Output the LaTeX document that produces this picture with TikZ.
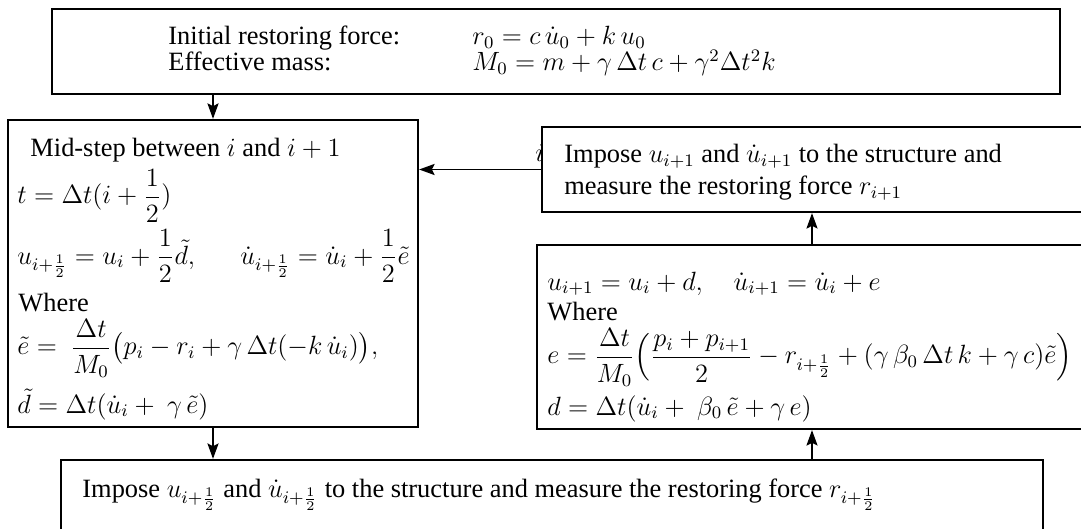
\documentclass[tikz,border=0pt,12pt]{standalone}
\usepackage{amsmath}
\usepackage{fontspec}
\setmainfont{Liberation Serif}
\usetikzlibrary{arrows.meta,fit}
\begin{document}
\begin{tikzpicture}[x=0.4545pt,y=-0.4545pt,
  box/.style={draw, line width=1pt, inner sep=0pt},
  txt/.style={anchor=base west, inner sep=0pt},
  arr/.style={-{Stealth[length=7pt,width=5pt,inset=1.2pt]}, line width=0.9pt}]
\clip (0,0) rectangle (1081,529);

% boxes
\node[box, fit={(52,9) (1060,94)}] (top) {};
\node[box, fit={(8,120) (418,427)}] (left) {};
\node[box, fit={(542,127) (1082,212)}] (rt) {};
\node[box, fit={(537,245) (1087,429)}] (rb) {};
\node[box, fit={(61,460) (1043,545)}] (bot) {};

% top box text
\node[txt] (t1) at (168,45) {Initial restoring force:};
\node[txt] (t2) at (168,71) {Effective mass:};
\node[txt] (t1m) at (472,45) {$r_0=c\,\dot u_0+k\,u_0$};
\node[txt] (t2m) at (472,71) {$M_0=m+\gamma\,\Delta t\,c+\gamma^2\Delta t^2k$};

% left box text
\node[txt] (l1) at (30,157) {Mid-step between $i$ and $i+1$};
\node[txt] (l2) at (17,204) {$t=\Delta t(i+\dfrac{1}{2})$};
\node[txt] (l3) at (17,264) {$u_{i+\frac12}=u_i+\dfrac12\tilde d,$};
\node[txt] (l3b) at (240,264) {$\dot u_{i+\frac12}=\dot u_i+\dfrac12\tilde e$};
\node[txt] (l4) at (18,312) {Where};
\node[txt] (l5) at (17,355) {$\tilde e=\ \dfrac{\Delta t}{M_0}\bigl(p_i-r_i+\gamma\,\Delta t(-k\,\dot u_i)\bigr),$};
\node[txt] (l6) at (17,413) {$\tilde d=\Delta t(\dot u_i+\ \gamma\,\tilde e)$};

% stray glyph
\node[txt] (stray) at (535,162) {$i$};

% right top box text
\node[txt] (r1) at (564,163) {Impose $u_{i+1}$ and $\dot u_{i+1}$ to the structure and};
\node[txt] (r2) at (564,195) {measure the restoring force $r_{i+1}$};

% right bottom box text
\node[txt] (b1) at (547,290) {$u_{i+1}=u_i+d,\quad \dot u_{i+1}=\dot u_i+e$};
\node[txt] (b2) at (547,320) {Where};
\node[txt] (b3) at (547,364) {$e=\dfrac{\Delta t}{M_0}\Bigl(\dfrac{p_i+p_{i+1}}{2}-r_{i+\frac12}+(\gamma\,\beta_0\,\Delta t\,k+\gamma\,c)\tilde e\Bigr)$};
\node[txt] (b4) at (547,415) {$d=\Delta t(\dot u_i+\ \beta_0\,\tilde e+\gamma\,e)$};

% bottom box text
\node[txt] (m1) at (82,497) {Impose $u_{i+\frac12}$ and $\dot u_{i+\frac12}$ to the structure and measure the restoring force $r_{i+\frac12}$};

% connectors
\draw[arr] (top.south -| left.north) -- (left.north);
\draw[arr] (left.south) -- (bot.north -| left.south);
\draw[arr] (bot.north -| rb.south) -- (rb.south);
\draw[arr] (rb.north) -- (rt.south);
\draw[arr] (rt.west) -- (left.east |- rt.west);
\end{tikzpicture}
\end{document}
